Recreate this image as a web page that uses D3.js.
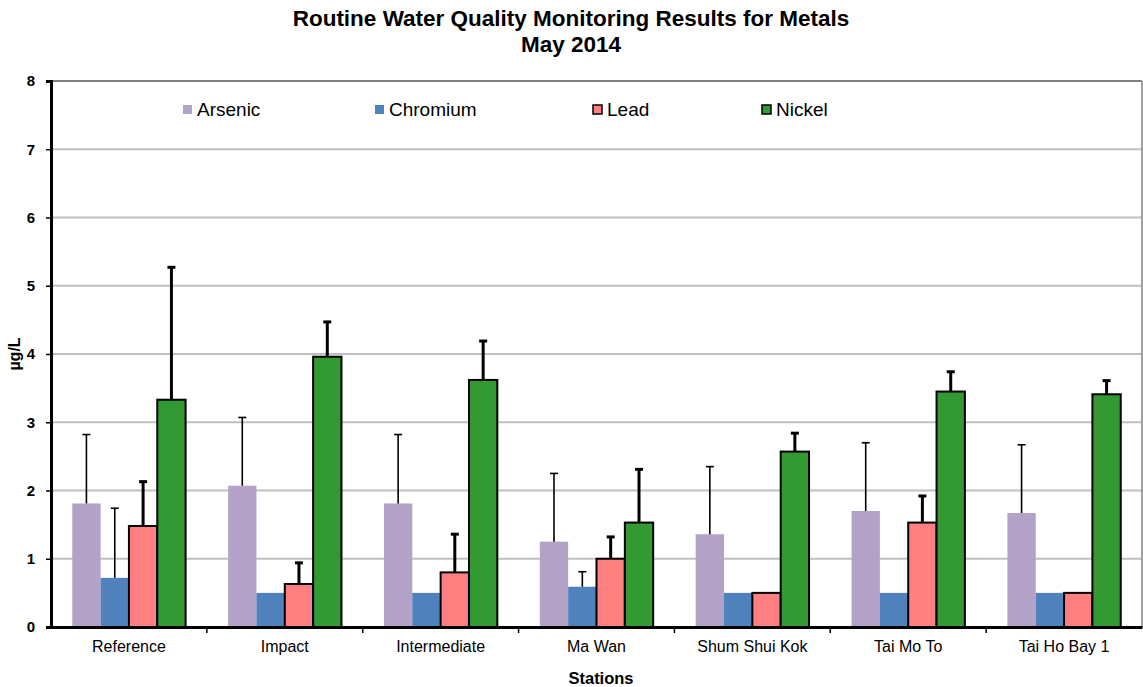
<!DOCTYPE html>
<html>
<head>
<meta charset="utf-8">
<script src="https://cdn.jsdelivr.net/npm/d3@7"></script>
<style>
body { margin: 0; background: #fff; }
text { font-family: "Liberation Sans", Arial, sans-serif; fill: #000; }
</style>
</head>
<body>
<div id="chart"></div>
<script>
// Chart data
let stations = ["Reference", "Impact", "Intermediate", "Ma Wan", "Shum Shui Kok", "Tai Mo To", "Tai Ho Bay 1"];
let metals = ["Arsenic", "Chromium", "Lead", "Nickel"];

// mean values per station (ug/L)
let arsenic = [1.81, 2.07, 1.81, 1.25, 1.36, 1.70, 1.67];
let chromium = [0.72, 0.50, 0.50, 0.59, 0.50, 0.50, 0.50];
let lead = [1.48, 0.63, 0.80, 1.00, 0.50, 1.53, 0.50];
let nickel = [3.33, 3.96, 3.62, 1.53, 2.57, 3.45, 3.41];

// upper error bar ends (null = no error bar)
let arsenicErr = [2.82, 3.07, 2.82, 2.25, 2.35, 2.70, 2.67];
let chromiumErr = [1.74, null, null, 0.81, null, null, null];
let leadErr = [2.13, 0.94, 1.36, 1.32, null, 1.92, null];
let nickelErr = [5.27, 4.47, 4.19, 2.31, 2.84, 3.74, 3.61];

let yTicks = [0, 1, 2, 3, 4, 5, 6, 7, 8];

let colors = ["#B3A2C7", "#4F81BD", "#FF8080", "#339933"];
let outlined = [false, false, true, true];
let errWidth = [1.6, 1.6, 3, 3];

let values = [arsenic, chromium, lead, nickel];
let errs = [arsenicErr, chromiumErr, leadErr, nickelErr];

let width = 1143, height = 687;
let margin = {left: 51, right: 0, top: 81, bottom: 60};

let svg = d3.select("#chart").append("svg")
    .attr("width", width)
    .attr("height", height);

let x = d3.scaleBand().domain(stations).range([margin.left, width - 1]);
let xi = d3.scaleBand().domain(metals).range([0, x.bandwidth()]).paddingInner(0).paddingOuter(0.75);
let y = d3.scaleLinear().domain([0, 8]).range([height - margin.bottom, margin.top]);

// gridlines
svg.append("g").selectAll("line")
    .data(yTicks.slice(1))
    .join("line")
    .attr("x1", margin.left)
    .attr("x2", width - 1)
    .attr("y1", d => y(d))
    .attr("y2", d => y(d))
    .attr("stroke", d => d === 8 ? "#808080" : "#C0C0C0")
    .attr("stroke-width", 2);

// right border
svg.append("line")
    .attr("x1", width - 1).attr("x2", width - 1)
    .attr("y1", y(8)).attr("y2", y(0))
    .attr("stroke", "#A0A0A0").attr("stroke-width", 2);

// bars
let groups = svg.append("g").selectAll("g")
    .data(metals)
    .join("g");

groups.each(function(m, k) {
    let g = d3.select(this);
    let data = stations.map((s, i) => ({s: s, v: values[k][i], e: errs[k][i]}));

    g.selectAll("rect")
        .data(data)
        .join("rect")
        .attr("x", d => x(d.s) + xi(m))
        .attr("y", d => y(d.v))
        .attr("width", xi.bandwidth())
        .attr("height", d => y(0) - y(d.v))
        .attr("fill", colors[k])
        .attr("stroke", outlined[k] ? "#000" : "none")
        .attr("stroke-width", 2);

    let eb = data.filter(d => d.e !== null);
    let cx = d => x(d.s) + xi(m) + xi.bandwidth() / 2;

    g.selectAll("line.err")
        .data(eb)
        .join("line")
        .attr("class", "err")
        .attr("x1", cx).attr("x2", cx)
        .attr("y1", d => y(d.v)).attr("y2", d => y(d.e))
        .attr("stroke", "#000")
        .attr("stroke-width", errWidth[k]);

    g.selectAll("line.cap")
        .data(eb)
        .join("line")
        .attr("class", "cap")
        .attr("x1", d => cx(d) - 4).attr("x2", d => cx(d) + 4)
        .attr("y1", d => y(d.e)).attr("y2", d => y(d.e))
        .attr("stroke", "#000")
        .attr("stroke-width", errWidth[k]);
});

// y axis
let yAxis = svg.append("g")
    .attr("transform", "translate(" + margin.left + ",0)")
    .call(d3.axisLeft(y).tickValues(yTicks).tickSize(5).tickPadding(11));
yAxis.select(".domain").attr("stroke", "#000").attr("stroke-width", 3);
yAxis.selectAll(".tick line").attr("stroke", "#000").attr("stroke-width", 1.5);
yAxis.selectAll(".tick text")
    .style("font-family", "'Liberation Sans', Arial, sans-serif")
    .style("font-size", "15px")
    .style("font-weight", "bold");

// x axis
let xAxis = svg.append("g")
    .attr("transform", "translate(0," + y(0) + ")")
    .call(d3.axisBottom(x).tickSize(0).tickPadding(14));
xAxis.select(".domain").attr("stroke", "#000").attr("stroke-width", 3);
xAxis.selectAll(".tick text")
    .style("font-family", "'Liberation Sans', Arial, sans-serif")
    .style("font-size", "16px");

// category separators
xAxis.append("g").selectAll("line")
    .data(stations.slice(1))
    .join("line")
    .attr("x1", d => x(d)).attr("x2", d => x(d))
    .attr("y1", 0).attr("y2", 6)
    .attr("stroke", "#000").attr("stroke-width", 1.5);

// titles
svg.append("text")
    .attr("x", 571).attr("y", 26)
    .attr("text-anchor", "middle")
    .style("font-size", "22.5px").style("font-weight", "bold")
    .text("Routine Water Quality Monitoring Results for Metals");
svg.append("text")
    .attr("x", 571).attr("y", 52)
    .attr("text-anchor", "middle")
    .style("font-size", "22.5px").style("font-weight", "bold")
    .text("May 2014");

svg.append("text")
    .attr("x", 601).attr("y", 684)
    .attr("text-anchor", "middle")
    .style("font-size", "16.5px").style("font-weight", "bold")
    .text("Stations");

svg.append("text")
    .attr("transform", "translate(20," + ((y(0) + y(8)) / 2) + ") rotate(-90)")
    .attr("text-anchor", "middle")
    .style("font-size", "16px").style("font-weight", "bold")
    .text("µg/L");

// legend
let legendX = [183, 375, 593, 762];
let legend = svg.append("g").selectAll("g")
    .data(metals)
    .join("g")
    .attr("transform", (d, i) => "translate(" + legendX[i] + ",105)");
legend.append("rect")
    .attr("width", 9).attr("height", 9)
    .attr("fill", (d, i) => colors[i])
    .attr("stroke", (d, i) => outlined[i] ? "#000" : "none")
    .attr("stroke-width", 1.5);
legend.append("text")
    .attr("x", 14).attr("y", 11)
    .style("font-size", "19px")
    .text(d => d);
</script>
</body>
</html>
